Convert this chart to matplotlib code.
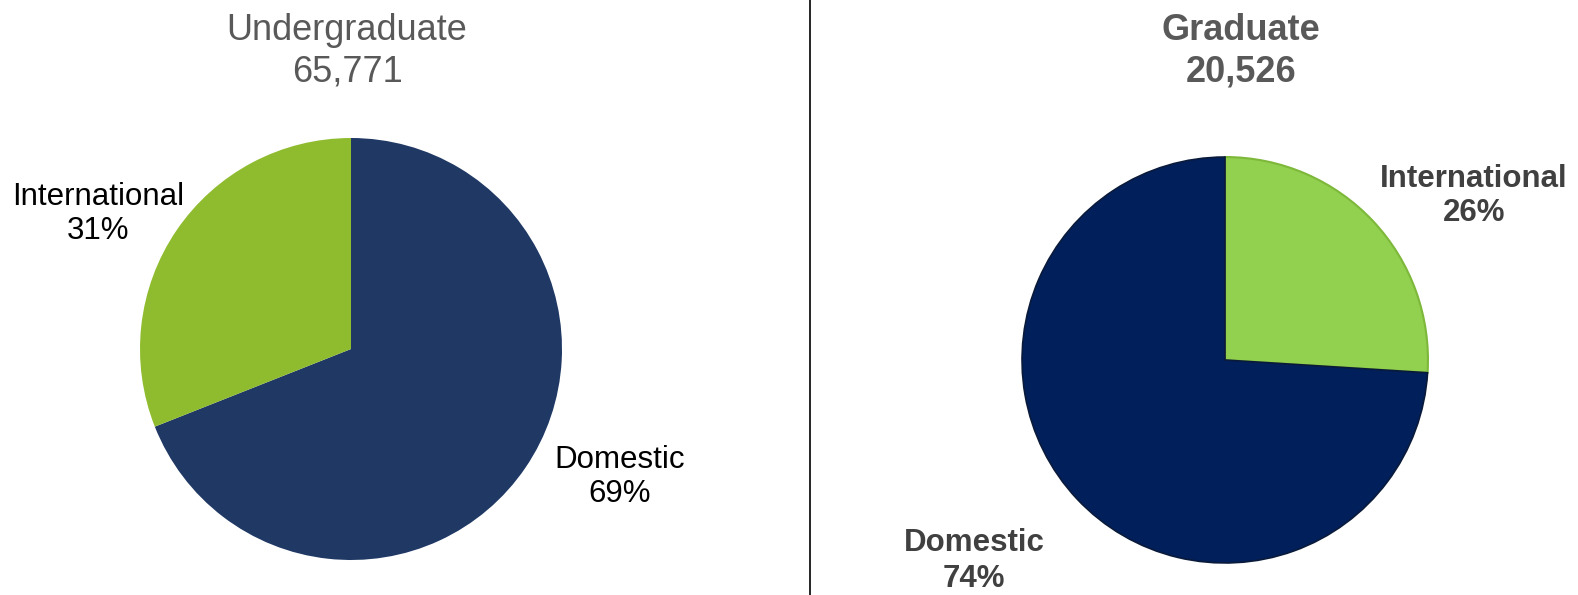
import matplotlib.pyplot as plt

# Data
ug_labels = ["Domestic", "International"]
ug_shares = [69, 31]
ug_total = "65,771"

gr_labels = ["International", "Domestic"]
gr_shares = [26, 74]
gr_total = "20,526"

W, H = 1578, 595
plt.rcParams['font.family'] = ['Liberation Sans', 'DejaVu Sans']

fig = plt.figure(figsize=(W / 100, H / 100), dpi=100)


def px(x, y):
    # pixel coords (top-left origin) -> figure fraction
    return x / W, 1 - y / H


def pie_axes(cx, cy, r):
    ax = fig.add_axes([(cx - r) / W, 1 - (cy + r) / H, 2 * r / W, 2 * r / H])
    return ax


# Undergraduate pie
ax1 = pie_axes(351, 349, 211)
ax1.pie(ug_shares, colors=["#1F3864", "#8FBC2F"], startangle=90,
        counterclock=False, radius=1)
ax1.set_xlim(-1, 1)
ax1.set_ylim(-1, 1)
ax1.axis('off')

# Graduate pie
ax2 = pie_axes(1225, 360, 205)
wedges, _ = ax2.pie(gr_shares, colors=["#92D050", "#001F5B"], startangle=90,
                    counterclock=False, radius=1)
wedges[0].set_edgecolor("#7DB83A")
wedges[0].set_linewidth(1.5)
wedges[1].set_edgecolor("#0A1A3A")
wedges[1].set_linewidth(1.2)
ax2.set_xlim(-1.01, 1.01)
ax2.set_ylim(-1.01, 1.01)
ax2.axis('off')

# Titles
fig.text(*px(347, 51), f"Undergraduate\n{ug_total}", ha='center', va='center',
         fontsize=26, color='#595959', linespacing=1.25)
fig.text(*px(1241, 51), f"Graduate\n{gr_total}", ha='center', va='center',
         fontsize=26, color='#595959', fontweight='bold', linespacing=1.25)

# Slice labels
fig.text(*px(98, 214), f"{ug_labels[1]}\n{ug_shares[1]}%", ha='center', va='center',
         fontsize=22.5, color='black', linespacing=1.2)
fig.text(*px(620, 477), f"{ug_labels[0]}\n{ug_shares[0]}%", ha='center', va='center',
         fontsize=22.5, color='black', linespacing=1.2)
fig.text(*px(1474, 196), f"{gr_labels[0]}\n{gr_shares[0]}%", ha='center', va='center',
         fontsize=22.5, color='#404040', fontweight='bold', linespacing=1.2)
fig.text(*px(974, 561), f"{gr_labels[1]}\n{gr_shares[1]}%", ha='center', va='center',
         fontsize=22.5, color='#404040', fontweight='bold', linespacing=1.25)

# Divider
fig.add_artist(plt.Line2D([810 / W, 810 / W], [0, 1], color='black', linewidth=1.2))

fig.savefig("out.png", dpi=100)
